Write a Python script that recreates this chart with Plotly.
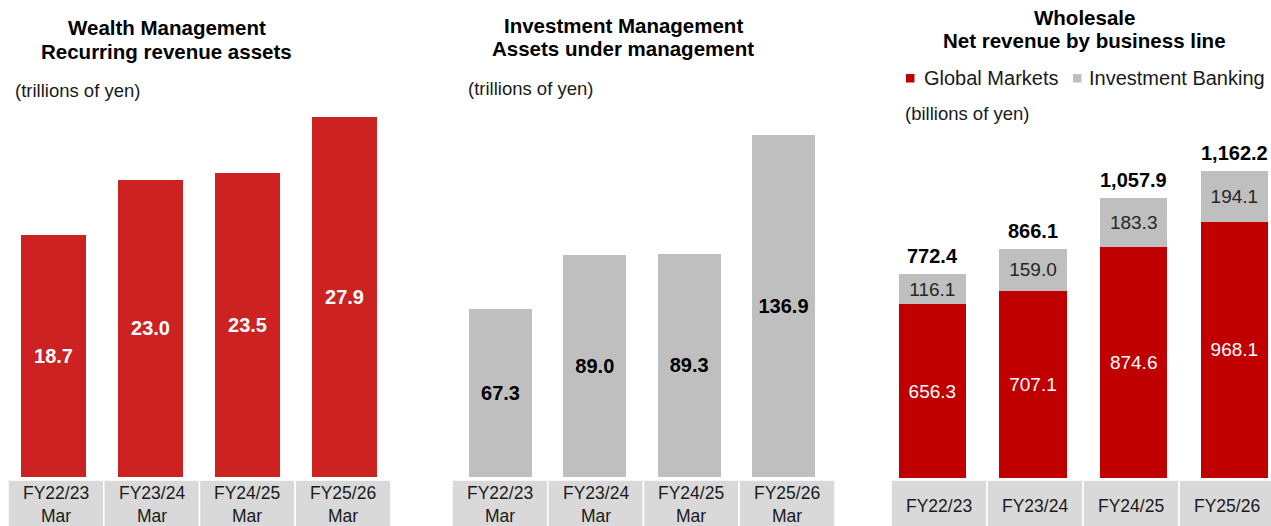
import plotly.graph_objects as go

# ---------------- data ----------------
wm_categories = ["FY22/23", "FY23/24", "FY24/25", "FY25/26"]
wm_cell_labels = ["FY22/23<br>Mar", "FY23/24<br>Mar", "FY24/25<br>Mar", "FY25/26<br>Mar"]
wm_values = [18.7, 23.0, 23.5, 27.9]

im_categories = ["FY22/23", "FY23/24", "FY24/25", "FY25/26"]
im_cell_labels = ["FY22/23<br>Mar", "FY23/24<br>Mar", "FY24/25<br>Mar", "FY25/26<br>Mar"]
im_values = [67.3, 89.0, 89.3, 136.9]

ws_categories = ["FY22/23", "FY23/24", "FY24/25", "FY25/26"]
ws_cell_labels = ["FY22/23", "FY23/24", "FY24/25", "FY25/26"]
ws_series_names = ["Global Markets", "Investment Banking"]
ws_global_markets = [656.3, 707.1, 874.6, 968.1]
ws_investment_banking = [116.1, 159.0, 183.3, 194.1]
ws_totals = [round(a + b, 1) for a, b in zip(ws_global_markets, ws_investment_banking)]

title_lines = [
    ["Wealth Management", "Recurring revenue assets"],
    ["Investment Management", "Assets under management"],
    ["Wholesale", "Net revenue by business line"],
]
unit_labels = ["(trillions of yen)", "(trillions of yen)", "(billions of yen)"]

# ---------------- styles ----------------
W, H = 1271, 526
FONT = "Liberation Sans, Arial, sans-serif"
RED_WM = "#CC2222"
RED_WS = "#C00000"
GRAY = "#BFBFBF"
CELL = "#D9D9D9"
TXT = "#1A1A1A"


def px(x):
    return x / W


def py(y):
    return 1 - y / H


fig = go.Figure()

# Panel 1: Wealth Management
fig.add_trace(go.Bar(
    x=wm_categories, y=wm_values, xaxis="x", yaxis="y",
    marker=dict(color=RED_WM, line=dict(width=0)),
    text=[f"{v:.1f}" for v in wm_values], textposition="inside",
    insidetextanchor="middle", constraintext="none",
    textfont=dict(family=FONT, size=20, color="white", weight="bold"),
    showlegend=False, hoverinfo="x+y",
))

# Panel 2: Investment Management
fig.add_trace(go.Bar(
    x=im_categories, y=im_values, xaxis="x2", yaxis="y2",
    marker=dict(color=GRAY, line=dict(width=0)),
    text=[f"{v:.1f}" for v in im_values], textposition="inside",
    insidetextanchor="middle", constraintext="none",
    textfont=dict(family=FONT, size=20, color="#000000", weight="bold"),
    showlegend=False, hoverinfo="x+y",
))

# Panel 3: Wholesale stacked
fig.add_trace(go.Bar(
    x=ws_categories, y=ws_global_markets, xaxis="x3", yaxis="y3",
    name=ws_series_names[0],
    marker=dict(color=RED_WS, line=dict(width=0)),
    text=[f"{v:.1f}" for v in ws_global_markets], textposition="inside",
    insidetextanchor="middle", constraintext="none",
    textfont=dict(family=FONT, size=19, color="white"),
    showlegend=False, hoverinfo="x+y",
))
fig.add_trace(go.Bar(
    x=ws_categories, y=ws_investment_banking, xaxis="x3", yaxis="y3",
    name=ws_series_names[1],
    marker=dict(color=GRAY, line=dict(width=0)),
    text=[f"{v:.1f}" for v in ws_investment_banking], textposition="inside",
    insidetextanchor="middle", constraintext="none",
    textfont=dict(family=FONT, size=19, color="#262626"),
    showlegend=False, hoverinfo="x+y",
))

hidden = dict(showgrid=False, zeroline=False, showline=False, showticklabels=False, ticks="",
              fixedrange=True)

layout = dict(
    width=W, height=H, margin=dict(l=0, r=0, t=0, b=0),
    paper_bgcolor="white", plot_bgcolor="white",
    font=dict(family=FONT, color=TXT),
    barmode="stack", bargap=0.333, showlegend=False,
)

# bar axes
layout["xaxis"] = dict(hidden, domain=[px(5), px(393)], anchor="y", type="category",
                       categoryorder="array", categoryarray=wm_categories, range=[-0.5, 3.5])
layout["yaxis"] = dict(hidden, domain=[py(477), py(100)], anchor="x", range=[0, 377 / 12.92])
layout["xaxis2"] = dict(hidden, domain=[px(453.3), px(830.7)], anchor="y2", type="category",
                        categoryorder="array", categoryarray=im_categories, range=[-0.5, 3.5])
layout["yaxis2"] = dict(hidden, domain=[py(477), py(100)], anchor="x2", range=[0, 377 / 2.50])
layout["xaxis3"] = dict(hidden, domain=[px(882), 1], anchor="y3", type="category",
                        categoryorder="array", categoryarray=ws_categories,
                        range=[-0.5, -0.5 + 389 / 100.67])
layout["yaxis3"] = dict(hidden, domain=[py(478), py(100)], anchor="x3", range=[0, 378 / 0.2645])

# label-cell axes
layout["xaxis4"] = dict(hidden, domain=[px(8), px(391)], anchor="y4", range=[-0.5, 3.5])
layout["xaxis5"] = dict(hidden, domain=[px(452), px(835)], anchor="y4", range=[-0.5, 3.5])
layout["xaxis6"] = dict(hidden, domain=[px(891), 1], anchor="y4", range=[-0.5, -0.5 + 380 / 96])
layout["yaxis4"] = dict(hidden, domain=[0, py(480)], anchor="x4", range=[0, 1])

fig.update_layout(**layout)

shapes = []
annotations = []
for xref, labels, two_line in (("x4", wm_cell_labels, True), ("x5", im_cell_labels, True),
                               ("x6", ws_cell_labels, False)):
    for i, lab in enumerate(labels):
        shapes.append(dict(type="rect", xref=xref, yref="paper", x0=i - 0.5, x1=i + 0.5,
                           y0=-0.01, y1=py(480), fillcolor=CELL,
                           line=dict(color="white", width=1.5), layer="below"))
        annotations.append(dict(xref=xref, yref="paper", x=i, y=py(504.5 if two_line else 505.5),
                                text=lab, showarrow=False, xanchor="center", yanchor="middle",
                                font=dict(family=FONT, size=17.5, color=TXT)))

# totals above wholesale bars
for cat, tot in zip(ws_categories, ws_totals):
    annotations.append(dict(xref="x3", yref="y3", x=cat, y=tot, text=f"<b>{tot:,.1f}</b>",
                            showarrow=False, xanchor="center", yanchor="bottom", yshift=5,
                            font=dict(family=FONT, size=20, color="#000000")))

# titles (one annotation per line for tighter line spacing)
title_pos = [(167, [27.5, 51.5]), (623, [25, 49]), (1084, [17, 40.5])]
for (cx, ys), lines in zip(title_pos, title_lines):
    for y, line in zip(ys, lines):
        annotations.append(dict(xref="paper", yref="paper", x=px(cx), y=py(y),
                                text=f"<b>{line}</b>", showarrow=False,
                                xanchor="center", yanchor="middle",
                                font=dict(family=FONT, size=20.5, color="#000000")))

unit_pos = [(13, 90), (466, 89), (903, 113)]
for (x, y), t in zip(unit_pos, unit_labels):
    annotations.append(dict(xref="paper", yref="paper", x=px(x), y=py(y), text=t,
                            showarrow=False, xanchor="left", yanchor="middle",
                            font=dict(family=FONT, size=18.5, color=TXT)))

# legend for the wholesale panel (small squares + names)
legend_items = [(906, 922, RED_WS), (1073, 1087, GRAY)]
for (sx, tx, col), name in zip(legend_items, ws_series_names):
    shapes.append(dict(type="rect", xref="paper", yref="paper", x0=px(sx), x1=px(sx + 8.5),
                       y0=py(82.5), y1=py(74), fillcolor=col, line=dict(width=0)))
    annotations.append(dict(xref="paper", yref="paper", x=px(tx), y=py(78), text=name,
                            showarrow=False, xanchor="left", yanchor="middle",
                            font=dict(family=FONT, size=20, color=TXT)))

fig.update_layout(shapes=shapes, annotations=annotations)
fig.write_html("out.html")
